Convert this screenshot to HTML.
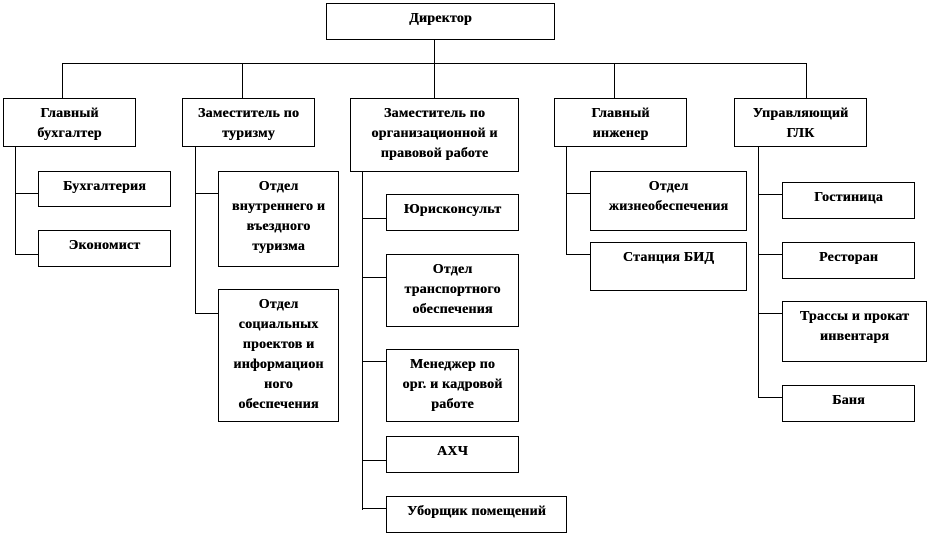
<!DOCTYPE html>
<html><head><meta charset="utf-8"><style>
body{margin:0;width:930px;height:535px;background:#fff;position:relative;overflow:hidden}
.b{position:absolute;border:1px solid #000;box-sizing:border-box;text-align:center;font-family:"Liberation Serif","DejaVu Serif",serif;font-weight:bold;font-size:14px;letter-spacing:0.2px;line-height:20px;padding-top:5px;color:#000;text-shadow:0.3px 0 0 #000;white-space:nowrap}
svg{position:absolute;left:0;top:0}
</style></head><body>
<svg width="930" height="535" stroke="#000" stroke-width="1" fill="none">
<path d="M434.5 39V98M62.5 63.5H806.5M62.5 63V98M242.5 63V98M614.5 63V98M806.5 63V98"/>
<path d="M15.5 146V254M15 193.5H38M15 254.5H38"/>
<path d="M195.5 146V313M195 193.5H218M195 313.5H218"/>
<path d="M362.5 171V510M362 218.5H386M362 277.5H386M362 361.5H386M362 460.5H386M362 508.5H386"/>
<path d="M566.5 146V254M566 193.5H590M566 254.5H590"/>
<path d="M758.5 146V398M758 194.5H782M758 254.5H782M758 313.5H782M758 397.5H782"/>
</svg>
<div class="b" style="left:326px;top:3px;width:229px;height:37px">Директор</div>
<div class="b" style="left:3px;top:98px;width:133px;height:49px">Главный<br>бухгалтер</div>
<div class="b" style="left:182px;top:98px;width:133px;height:49px">Заместитель по<br>туризму</div>
<div class="b" style="left:350px;top:98px;width:169px;height:74px">Заместитель по<br>организационной и<br>правовой работе</div>
<div class="b" style="left:554px;top:98px;width:133px;height:49px">Главный<br>инженер</div>
<div class="b" style="left:734px;top:98px;width:133px;height:49px">Управляющий<br>ГЛК</div>
<div class="b" style="left:38px;top:171px;width:133px;height:36px">Бухгалтерия</div>
<div class="b" style="left:38px;top:230px;width:133px;height:37px">Экономист</div>
<div class="b" style="left:218px;top:171px;width:121px;height:96px">Отдел<br>внутреннего и<br>въездного<br>туризма</div>
<div class="b" style="left:218px;top:289px;width:121px;height:133px">Отдел<br>социальных<br>проектов и<br>информацион<br>ного<br>обеспечения</div>
<div class="b" style="left:386px;top:194px;width:133px;height:37px">Юрисконсульт</div>
<div class="b" style="left:386px;top:254px;width:133px;height:73px">Отдел<br>транспортного<br>обеспечения</div>
<div class="b" style="left:386px;top:349px;width:133px;height:73px">Менеджер по<br>орг. и кадровой<br>работе</div>
<div class="b" style="left:386px;top:436px;width:133px;height:37px">АХЧ</div>
<div class="b" style="left:386px;top:496px;width:181px;height:37px">Уборщик помещений</div>
<div class="b" style="left:590px;top:171px;width:157px;height:60px">Отдел<br>жизнеобеспечения</div>
<div class="b" style="left:590px;top:242px;width:157px;height:49px">Станция БИД</div>
<div class="b" style="left:782px;top:182px;width:133px;height:37px">Гостиница</div>
<div class="b" style="left:782px;top:242px;width:133px;height:37px">Ресторан</div>
<div class="b" style="left:782px;top:301px;width:145px;height:61px">Трассы и прокат<br>инвентаря</div>
<div class="b" style="left:782px;top:385px;width:133px;height:37px">Баня</div>
</body></html>
